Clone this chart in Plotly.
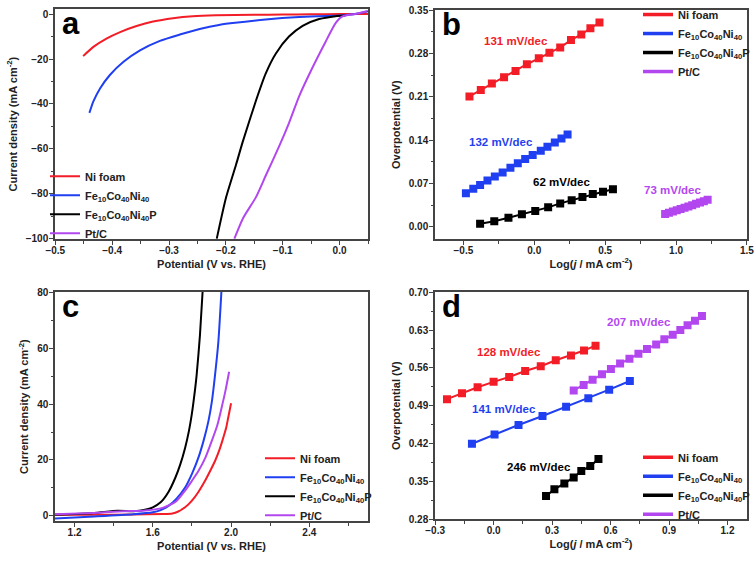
import plotly.graph_objects as go

# ---------------- data ----------------
names = ["Ni foam", "Fe<sub>10</sub>Co<sub>40</sub>Ni<sub>40</sub>",
         "Fe<sub>10</sub>Co<sub>40</sub>Ni<sub>40</sub>P", "Pt/C"]
colors = ["#f21d27", "#1f3ff0", "#000000", "#b347ef"]

# panel a : HER polarization
a_ni_x = [-0.451, -0.433, -0.410, -0.386, -0.357, -0.328, -0.293, -0.258, -0.217, -0.15, -0.10, -0.05, 0.0, 0.05]
a_ni_y = [-18.7, -14.6, -10.9, -8.0, -5.3, -3.3, -1.8, -0.9, -0.5, -0.3, -0.2, -0.1, 0.0, 0.1]
a_fe_x = [-0.440, -0.433, -0.421, -0.404, -0.380, -0.351, -0.316, -0.281, -0.246, -0.212, -0.188, -0.130, -0.071, -0.001, 0.03, 0.05]
a_fe_y = [-44.0, -38.9, -33.0, -27.1, -21.2, -16.1, -11.9, -9.1, -6.6, -4.8, -4.0, -2.4, -1.3, -0.6, 0.2, 1.3]
a_p_x = [-0.216, -0.200, -0.182, -0.1705, -0.147, -0.130, -0.112, -0.089, -0.065, -0.036, -0.007, 0.010]
a_p_y = [-100, -82, -67, -57, -38.5, -26.5, -17.5, -10, -5.2, -2.2, -0.9, -0.6]
a_pt_x = [-0.185, -0.170, -0.147, -0.130, -0.106, -0.089, -0.071, -0.048, -0.025, -0.007, 0.005, 0.028, 0.048]
a_pt_y = [-100, -91, -81.5, -72.0, -58.7, -48.5, -36.5, -24.0, -12.5, -4.0, -1.0, 0.1, 1.3]

# panel b : HER Tafel
b_ni_x = [-0.457, -0.377, -0.299, -0.213, -0.132, -0.052, 0.032, 0.107, 0.183, 0.259, 0.332, 0.396, 0.460]
b_ni_y = [0.2108, 0.2211, 0.2317, 0.2420, 0.2520, 0.2628, 0.2724, 0.2814, 0.2900, 0.3018, 0.3109, 0.3210, 0.3301]
b_fe_x = [-0.482, -0.430, -0.382, -0.330, -0.278, -0.223, -0.168, -0.116, -0.064, -0.011, 0.046, 0.093, 0.145, 0.192, 0.235]
b_fe_y = [0.0546, 0.0615, 0.0679, 0.0750, 0.0814, 0.0878, 0.0958, 0.1028, 0.1097, 0.1161, 0.1232, 0.1296, 0.1365, 0.1429, 0.1493]
b_p_x = [-0.382, -0.282, -0.182, -0.087, 0.007, 0.098, 0.183, 0.264, 0.340, 0.413, 0.485, 0.555]
b_p_y = [0.0053, 0.0091, 0.0149, 0.0204, 0.0257, 0.0316, 0.0380, 0.0433, 0.0482, 0.0530, 0.0567, 0.0610]
b_pt_x = [0.923, 0.950, 0.978, 1.005, 1.032, 1.060, 1.087, 1.114, 1.141, 1.169, 1.196, 1.223]
b_pt_y = [0.0209, 0.0229, 0.0250, 0.0270, 0.0290, 0.0311, 0.0331, 0.0352, 0.0373, 0.0394, 0.0416, 0.0438]
b_labels = ["131 mV/dec", "132 mV/dec", "62 mV/dec", "73 mV/dec"]
b_label_x = [-0.13, -0.237, 0.19, 0.975]
b_label_y = [0.300, 0.138, 0.073, 0.060]

# panel c : OER polarization
c_ni_x = [1.1, 1.3, 1.5, 1.65, 1.70, 1.73, 1.765, 1.799, 1.833, 1.867, 1.893, 1.918, 1.940, 1.960, 1.975, 1.985, 1.993, 2.0]
c_ni_y = [0.3, 0.3, 0.4, 0.6, 0.8, 1.5, 3.0, 5.3, 8.5, 12.5, 16.0, 19.6, 23.5, 27.9, 31.5, 35.0, 37.8, 40.3]
c_fe_x = [1.1, 1.3, 1.5, 1.6, 1.64, 1.68, 1.72, 1.765, 1.80, 1.833, 1.86, 1.884, 1.902, 1.918, 1.935, 1.952]
c_fe_y = [-1.0, -0.3, 0.5, 1.2, 2.0, 3.5, 6.0, 10.1, 15.0, 20.8, 27.0, 33.8, 41.0, 50.4, 62.3, 82]
c_p_x = [1.1, 1.3, 1.42, 1.5, 1.56, 1.6, 1.64, 1.68, 1.715, 1.74, 1.765, 1.785, 1.799, 1.812, 1.824, 1.841, 1.856]
c_p_y = [0.3, 1.0, 1.8, 1.6, 2.1, 3.0, 4.8, 8.5, 13.6, 18.3, 24.3, 30.5, 36.2, 43.0, 50.4, 64.7, 82]
c_pt_x = [1.1, 1.3, 1.45, 1.55, 1.65, 1.72, 1.765, 1.80, 1.833, 1.87, 1.901, 1.93, 1.951, 1.972, 1.990]
c_pt_y = [0.5, 1.0, 1.6, 1.8, 2.8, 5.2, 9.0, 12.5, 16.0, 21.0, 26.7, 32.5, 38.5, 45.0, 51.6]

# panel d : OER Tafel
d_ni_x = [-0.239, -0.162, -0.082, 0.0, 0.080, 0.162, 0.242, 0.319, 0.397, 0.464, 0.523]
d_ni_y = [0.502, 0.513, 0.524, 0.534, 0.543, 0.554, 0.563, 0.574, 0.583, 0.592, 0.601]
d_fe_x = [-0.111, 0.005, 0.128, 0.251, 0.372, 0.486, 0.593, 0.699]
d_fe_y = [0.4194, 0.4364, 0.4542, 0.4707, 0.4878, 0.5038, 0.5195, 0.5355]
d_p_x = [0.269, 0.312, 0.363, 0.411, 0.450, 0.496, 0.538]
d_p_y = [0.3227, 0.335, 0.346, 0.357, 0.369, 0.378, 0.391]
d_pt_x = [0.411, 0.462, 0.508, 0.556, 0.602, 0.649, 0.697, 0.743, 0.787, 0.834, 0.876, 0.919, 0.958, 0.995, 1.033, 1.069]
d_pt_y = [0.518, 0.528, 0.538, 0.548, 0.558, 0.568, 0.577, 0.586, 0.595, 0.603, 0.613, 0.621, 0.630, 0.639, 0.647, 0.656]
d_labels = ["128 mV/dec", "141 mV/dec", "246 mV/dec", "207 mV/dec"]
d_label_x = [0.077, 0.056, 0.234, 0.746]
d_label_y = [0.590, 0.484, 0.376, 0.644]

panel_letters = ["a", "b", "c", "d"]

# ---------------- figure ----------------
FONT = "Liberation Sans, Arial, sans-serif"
W, H = 756, 561
fig = go.Figure()

panels = [
    ("x", "y", "legend", [(a_ni_x, a_ni_y), (a_fe_x, a_fe_y), (a_p_x, a_p_y), (a_pt_x, a_pt_y)], "lines"),
    ("x2", "y2", "legend2", [(b_ni_x, b_ni_y), (b_fe_x, b_fe_y), (b_p_x, b_p_y), (b_pt_x, b_pt_y)], "lines+markers"),
    ("x3", "y3", "legend3", [(c_ni_x, c_ni_y), (c_fe_x, c_fe_y), (c_p_x, c_p_y), (c_pt_x, c_pt_y)], "lines"),
    ("x4", "y4", "legend4", [(d_ni_x, d_ni_y), (d_fe_x, d_fe_y), (d_p_x, d_p_y), (d_pt_x, d_pt_y)], "lines+markers"),
]
for xa, ya, lg, series, mode in panels:
    for i, (xs, ys) in enumerate(series):
        line = dict(color=colors[i], width=2)
        if mode == "lines":
            line.update(shape="spline", smoothing=0.6)
        fig.add_trace(go.Scatter(
            x=xs, y=ys, mode=mode, name=names[i], xaxis=xa, yaxis=ya, legend=lg,
            showlegend=(mode == "lines"), legendgroup=f"{lg}_{i}",
            line=line,
            marker=dict(symbol="square", size=8, color=colors[i]),
        ))
        if mode != "lines":
            # legend entry drawn as a plain thick line (no marker), as in the original
            fig.add_trace(go.Scatter(
                x=[None], y=[None], mode="lines", name=names[i], xaxis=xa, yaxis=ya,
                legend=lg, legendgroup=f"{lg}_{i}", showlegend=True,
                line=dict(color=colors[i], width=3.5),
            ))

def px_x(p):
    return p / W

def px_y(p):
    return 1 - p / H

tickfont = dict(family=FONT, size=10, color="#222", weight="bold")
titlefont = dict(family=FONT, size=11, color="#222", weight="bold")

def axis(dom, rng, tick0, dtick, fmt, title, anchor, is_x):
    return dict(domain=dom, range=rng, tick0=tick0, dtick=dtick, tickformat=fmt,
                automargin=False,
                showline=True, mirror=True, linecolor="#444", linewidth=1.5,
                ticks="outside", ticklen=4, tickwidth=1.2, tickcolor="#444",
                ticklabelstandoff=-3 if is_x else -1,
                minor=dict(ticks="outside", ticklen=2.5, dtick=dtick / 2, tickcolor="#444", tickwidth=1),
                showgrid=False, zeroline=False, tickfont=tickfont, anchor=anchor,
                title=dict(text=title, font=titlefont, standoff=5 if is_x else 6))

xa_dom = [px_x(55), px_x(368)]
xb_dom = [px_x(435), px_x(747)]
ya_dom = [px_y(237), px_y(5)]
yb_dom = [px_y(237), px_y(6)]
yc_dom = [px_y(521), px_y(290)]
yd_dom = [px_y(519), px_y(290)]

pot = "Potential (V vs. RHE)"
cur = "Current density (mA cm<sup>-2</sup>)"
ovp = "Overpotential (V)"
logj = "Log(<i>j</i> / mA cm<sup>-2</sup>)"

fig.update_layout(
    width=W, height=H, margin=dict(l=0, r=0, t=0, b=0),
    paper_bgcolor="white", plot_bgcolor="white",
    font=dict(family=FONT, color="#222"),
    xaxis=axis(xa_dom, [-0.5005, 0.05], -0.5, 0.1, ".1f", pot, "y", True),
    yaxis=axis(ya_dom, [-100.3, 2.3], 0, 20, "d", cur, "x", False),
    xaxis2=axis(xb_dom, [-0.7, 1.5005], -0.5, 0.5, ".1f", logj, "y2", True),
    yaxis2=axis(yb_dom, [-0.02, 0.3505], 0, 0.07, ".2f", ovp, "x2", False),
    xaxis3=axis(xa_dom, [1.1, 2.7], 1.2, 0.4, ".1f", pot, "y3", True),
    yaxis3=axis(yc_dom, [-2, 80.2], 0, 20, "d", cur, "x3", False),
    xaxis4=axis(xb_dom, [-0.3005, 1.3], -0.3, 0.3, ".1f", logj, "y4", True),
    yaxis4=axis(yd_dom, [0.2795, 0.7005], 0.28, 0.07, ".2f", ovp, "x4", False),
)

legfont = dict(family=FONT, size=11, color="#222", weight="bold")
def leg(x, y):
    return dict(x=px_x(x), y=px_y(y), xanchor="left", yanchor="top",
                bgcolor="rgba(0,0,0,0)", font=legfont, tracegroupgap=0,
                itemwidth=30, borderwidth=0)

fig.update_layout(
    legend=leg(45, 159),
    legend2=leg(638, -4),
    legend3=leg(260, 443),
    legend4=leg(638, 442),
)

# slope annotations
for i, t in enumerate(b_labels):
    fig.add_annotation(x=b_label_x[i], y=b_label_y[i], xref="x2", yref="y2", text=t,
                       showarrow=False, font=dict(family=FONT, size=11.5, color=colors[i], weight="bold"))
for i, t in enumerate(d_labels):
    fig.add_annotation(x=d_label_x[i], y=d_label_y[i], xref="x4", yref="y4", text=t,
                       showarrow=False, font=dict(family=FONT, size=11.5, color=colors[i], weight="bold"))

# panel letters
for letter, xr, yr in zip(panel_letters, ["x", "x2", "x3", "x4"], ["y", "y2", "y3", "y4"]):
    fig.add_annotation(x=0.015, y=1.02, xref=xr + " domain", yref=yr + " domain", text=letter,
                       showarrow=False, xanchor="left", yanchor="top",
                       font=dict(family=FONT, size=31, color="#000", weight="bold"))

fig.write_html("out.html", config={"displayModeBar": False},
               post_script="document.body.style.margin='0px';document.body.style.padding='0px';")
